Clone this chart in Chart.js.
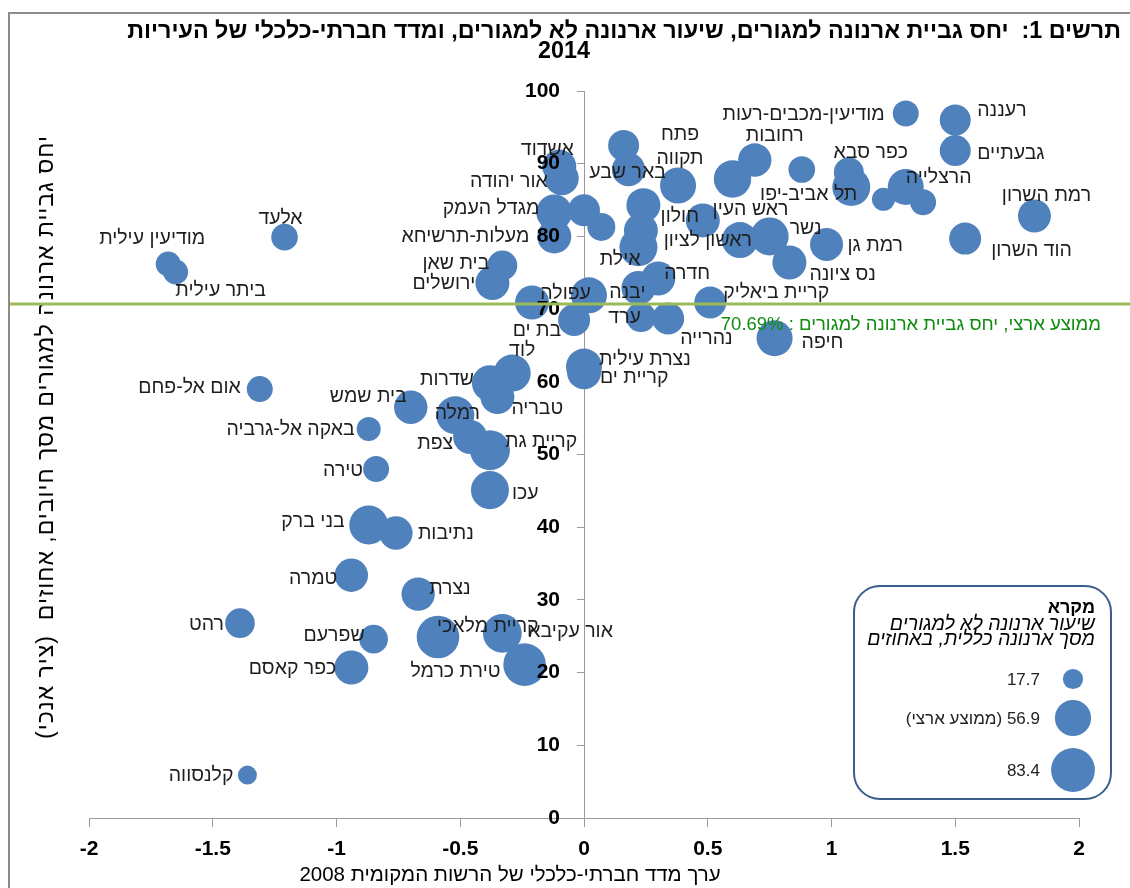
<!DOCTYPE html>
<html lang="he">
<head>
<meta charset="utf-8">
<script src="https://cdn.jsdelivr.net/npm/chart.js@4.4.1/dist/chart.umd.min.js"></script>
<style>
html,body{margin:0;padding:0;background:#fff;}
canvas{display:block;}
</style>
</head>
<body>
<canvas id="c" width="1130" height="888"></canvas>
<script>
// ---------------- DATA ----------------
const cities = [
  'מודיעין-מכבים-רעות','רעננה','גבעתיים','רמת השרון','הוד השרון','הרצלייה','','',
  'כפר סבא','תל אביב-יפו','','רחובות','ראש העין','באר שבע','','אשדוד',
  'אור יהודה','מגדל העמק','מעלות-תרשיחא','','','','','אילת',
  'פתח תקווה','חולון','ראשון לציון','נשר','נס ציונה','רמת גן','קריית ביאליק','חדרה',
  'יבנה','עפולה','','בת ים','ערד','נהרייה','חיפה','נצרת עילית',
  'קריית ים','לוד','שדרות','טבריה','בית שמש','רמלה','צפת','קריית גת',
  'עכו','אום אל-פחם','באקה אל-גרביה','טירה','בני ברק','נתיבות','טמרה','נצרת',
  'רהט','שפרעם','כפר קאסם','קריית מלאכי','אור עקיבא','טירת כרמל','קלנסווה','אלעד',
  'מודיעין עילית','ביתר עילית','בית שאן','ירושלים'
];
// socio-economic index of the local authority, 2008 (x)
const socioIndex = [
  1.30, 1.50, 1.50, 1.82, 1.54, 1.30, 1.21, 1.37,
  1.07, 1.08, 0.88, 0.69, 0.60, 0.18, 0.16, -0.10,
  -0.09, -0.12, -0.12, 0.00, 0.07, 0.24, 0.23, 0.22,
  0.38, 0.48, 0.63, 0.75, 0.83, 0.98, 0.51, 0.30,
  0.22, 0.02, -0.21, -0.04, 0.23, 0.34, 0.77, 0.00,
  0.00, -0.29, -0.38, -0.35, -0.70, -0.52, -0.46, -0.38,
  -0.38, -1.31, -0.87, -0.84, -0.87, -0.76, -0.94, -0.67,
  -1.39, -0.85, -0.94, -0.59, -0.33, -0.24, -1.36, -1.21,
  -1.68, -1.65, -0.33, -0.37
];
// residential arnona collection ratio, % of charges (y)
const residentialCollection = [
  96.9, 96.0, 91.8, 82.8, 79.7, 86.8, 85.1, 84.7,
  88.8, 86.8, 89.2, 90.5, 87.9, 89.2, 92.5, 89.6,
  88.0, 83.3, 80.0, 83.6, 81.3, 84.3, 80.8, 78.5,
  87.0, 82.2, 79.5, 80.0, 76.4, 78.9, 70.9, 74.2,
  72.9, 71.9, 70.9, 68.5, 68.9, 68.7, 66.0, 62.1,
  61.3, 61.2, 59.8, 57.9, 56.5, 55.4, 52.4, 50.6,
  45.1, 59.0, 53.5, 48.0, 40.3, 39.2, 33.4, 30.8,
  26.8, 24.6, 20.7, 24.9, 25.4, 21.1, 5.9, 79.9,
  76.2, 75.1, 76.0, 73.6
];
// non-residential arnona as % of total arnona (bubble size)
const nonResidentialShare = [
  29.3, 41.7, 41.7, 47.3, 44.4, 56.3, 23.0, 29.3,
  39.0, 62.7, 30.7, 48.4, 60.7, 48.4, 41.7, 50.2,
  50.2, 56.3, 50.2, 44.4, 34.0, 50.2, 50.2, 62.7,
  56.3, 50.2, 56.3, 62.7, 50.2, 47.3, 44.4, 50.2,
  50.2, 56.3, 50.2, 44.4, 39.0, 44.4, 56.3, 56.3,
  50.2, 59.4, 56.3, 50.2, 48.4, 62.7, 50.2, 69.4,
  62.7, 29.3, 25.0, 29.3, 65.3, 48.4, 48.4, 48.4,
  38.0, 35.5, 50.2, 78.8, 65.3, 78.8, 15.7, 30.7,
  27.1, 27.1, 39.0, 50.2
];
const xTickValues = [-2, -1.5, -1, -0.5, 0, 0.5, 1, 1.5, 2];
const yTickValues = [0, 10, 20, 30, 40, 50, 60, 70, 80, 90, 100];
const nationalAverage = 70.69;
const legendSizes = [17.7, 56.9, 83.4];
const legendLabels = ['17.7', '56.9 (ממוצע ארצי)', '83.4'];
const titleLines = ['תרשים 1:  יחס גביית ארנונה למגורים, שיעור ארנונה לא למגורים, ומדד חברתי-כלכלי של העיריות', '2014'];
const xTitle = 'ערך מדד חברתי-כלכלי של הרשות המקומית 2008';
const yTitle = 'יחס גביית ארנונה למגורים מסך חיובים, אחוזים  (ציר אנכי)';
const averageLabel = 'ממוצע ארצי, יחס גביית ארנונה למגורים : ' + nationalAverage.toFixed(2) + '%';
const legendTitle = 'מקרא';
const legendSubtitle = ['שיעור ארנונה לא למגורים', 'מסך ארנונה כללית, באחוזים'];

// ---------------- LABEL PLACEMENT (offset from bubble centre, text alignment, wrap) ----------------
const labelPlacement = [
  [-21,0,'right'],[22,-10,'left'],[22,2,'left'],[12,-21,'center'],[26,11,'left'],[0,-10,'left'],null,null,
  [22,-21,'center'],[6,7,'right'],null,[20,-25,'center'],[18,30,'center'],[-1,2,'center'],null,[-12,-18,'center'],
  [-14,2,'right'],[-15,-5,'right'],[-25,-1,'right'],null,null,null,null,[2,11,'right'],
  [2,-40,'center',true],[-23,-5,'center'],[12,0,'right'],[20,-9,'left'],[20,11,'left'],[21,0,'left'],[13,-11,'left'],[6,-6,'left'],
  [7,4,'right'],[2,-3,'right'],null,[-13,10,'right'],[0,0,'right'],[12,19,'left'],[27,3,'left'],[15,-8,'left'],
  [16,4,'left'],[10,-23,'center'],[-16,-5,'right'],[14,11,'left'],[-4,-12,'right'],[2,-3,'center'],[-17,6,'right'],[15,-10,'left'],
  [22,3,'left'],[-19,-2,'right'],[-14,0,'right'],[-13,1,'right'],[-24,-4,'right'],[22,0,'left'],[-14,2,'right'],[11,-6,'left'],
  [-16,0,'right'],[-9,-5,'right'],[-15,0,'right'],[-1,-11,'left'],[26,-3,'left'],[-24,6,'right'],[-14,0,'right'],[-4,-20,'center'],
  [-16,-26,'center'],[45,18,'center'],[-13,-3,'right'],[-17,0,'right']
];

const FONT = "'Liberation Sans', Arial, 'DejaVu Sans', sans-serif";
const BUBBLE = '#4f81bd';
const AXIS = '#9a9a9a';
const Y_LABEL_GAP = 24; // tick length + padding between y tick labels and the axis line
const bubbleRadius = v => 2.4 * Math.sqrt(v);

const points = cities.map((c, i) => ({
  x: socioIndex[i], y: residentialCollection[i], r: bubbleRadius(nonResidentialShare[i])
}));

const decor = {
  id: 'decor',
  beforeDraw(chart) {
    // y axis sits at x = 0; push its tick labels left of the tick marks
    const items = chart.scales.y.getLabelItems();
    if (!items._shifted) {
      items.forEach(it => { it.options.translation[0] -= Y_LABEL_GAP; });
      items._shifted = true;
    }
    const ctx = chart.ctx;
    ctx.save();
    ctx.fillStyle = '#fff';
    ctx.fillRect(0, 0, chart.width, chart.height);
    ctx.strokeStyle = '#8c8c8c';
    ctx.lineWidth = 2;
    ctx.strokeRect(9, 13, chart.width + 10, chart.height + 10);
    ctx.fillStyle = '#000';
    ctx.direction = 'rtl';
    ctx.textBaseline = 'alphabetic';
    ctx.font = 'bold 23.3px ' + FONT;
    ctx.textAlign = 'right';
    ctx.fillText(titleLines[0], 1121, 38);
    ctx.textAlign = 'center';
    ctx.fillText(titleLines[1], 564, 58);
    ctx.font = '20.5px ' + FONT;
    ctx.fillText(xTitle, 510, 881);
    ctx.translate(47, 437);
    ctx.rotate(-Math.PI / 2);
    ctx.font = '23px ' + FONT;
    ctx.letterSpacing = '1px';
    ctx.textBaseline = 'middle';
    ctx.fillText(yTitle, 0, 0);
    ctx.restore();
  },
  afterDatasetsDraw(chart) {
    const ctx = chart.ctx;
    const meta = chart.getDatasetMeta(0);
    ctx.save();
    ctx.font = '19.5px ' + FONT;
    ctx.fillStyle = '#1e1e1e';
    ctx.direction = 'rtl';
    ctx.textBaseline = 'middle';
    meta.data.forEach((el, i) => {
      const p = labelPlacement[i];
      if (!p || !cities[i]) return;
      ctx.textAlign = p[2];
      if (p[3]) {
        const parts = cities[i].split(' ');
        const lh = 24;
        parts.forEach((t, k) => {
          ctx.fillText(t, el.x + p[0], el.y + p[1] + 1 + (k - (parts.length - 1) / 2) * lh);
        });
      } else {
        ctx.fillText(cities[i], el.x + p[0], el.y + p[1] + 1);
      }
    });
    ctx.restore();
  },
  afterDraw(chart) {
    const ctx = chart.ctx;
    const yAvg = chart.scales.y.getPixelForValue(nationalAverage);
    ctx.save();
    ctx.strokeStyle = '#9bbb59';
    ctx.lineWidth = 3;
    ctx.beginPath();
    ctx.moveTo(10, yAvg);
    ctx.lineTo(chart.width, yAvg);
    ctx.stroke();
    ctx.direction = 'rtl';
    ctx.fillStyle = '#0e8c0e';
    ctx.font = '18.5px ' + FONT;
    ctx.textAlign = 'right';
    ctx.textBaseline = 'middle';
    ctx.fillText(averageLabel, 1101, yAvg + 21);
    // legend box
    ctx.strokeStyle = '#3a5f8b';
    ctx.lineWidth = 2;
    ctx.beginPath();
    ctx.roundRect(854, 586, 257, 213, 26);
    ctx.stroke();
    ctx.fillStyle = '#000';
    ctx.textBaseline = 'alphabetic';
    ctx.font = 'bold 18px ' + FONT;
    ctx.fillText(legendTitle, 1095, 613);
    ctx.font = 'italic 19.5px ' + FONT;
    ctx.fillText(legendSubtitle[0], 1095, 630);
    ctx.fillText(legendSubtitle[1], 1095, 645);
    const ly = [679, 718, 770];
    ctx.font = '17px ' + FONT;
    ctx.textBaseline = 'middle';
    legendSizes.forEach((s, k) => {
      ctx.fillStyle = BUBBLE;
      ctx.beginPath();
      ctx.arc(1073, ly[k], bubbleRadius(s), 0, Math.PI * 2);
      ctx.fill();
      ctx.fillStyle = '#222';
      ctx.fillText(legendLabels[k], 1040, ly[k] + 1);
    });
    ctx.restore();
  }
};

new Chart(document.getElementById('c'), {
  type: 'bubble',
  data: {
    datasets: [{
      data: points,
      backgroundColor: BUBBLE,
      borderColor: BUBBLE,
      borderWidth: 0,
      hoverRadius: 0
    }]
  },
  options: {
    responsive: false,
    animation: false,
    events: [],
    layout: { padding: { left: 89, right: 51, top: 91, bottom: 0 } },
    plugins: { legend: { display: false }, tooltip: { enabled: false }, title: { display: false } },
    scales: {
      x: {
        type: 'linear', min: -2, max: 2,
        afterBuildTicks: s => { s.ticks = xTickValues.map(v => ({ value: v })); },
        afterFit: s => { s.height = 70; },
        ticks: { font: { family: FONT, size: 21, weight: 'bold' }, color: '#000', padding: 10, callback: v => String(v), maxRotation: 0, autoSkip: false },
        grid: {
          display: true, drawOnChartArea: true,
          color: c => (c.tick && c.tick.value === 0) ? AXIS : 'rgba(0,0,0,0)',
          tickColor: AXIS, tickLength: 9, lineWidth: 1
        },
        border: { display: true, color: AXIS, width: 1 }
      },
      y: {
        type: 'linear', min: 0, max: 100, position: { x: 0 },
        afterBuildTicks: s => { s.ticks = yTickValues.map(v => ({ value: v })); },
        ticks: { font: { family: FONT, size: 21, weight: 'bold' }, color: '#000', padding: 17, autoSkip: false, z: 1 },
        grid: { display: true, drawOnChartArea: false, tickColor: AXIS, tickLength: 7 },
        border: { display: false }
      }
    }
  },
  plugins: [decor]
});
</script>
</body>
</html>
